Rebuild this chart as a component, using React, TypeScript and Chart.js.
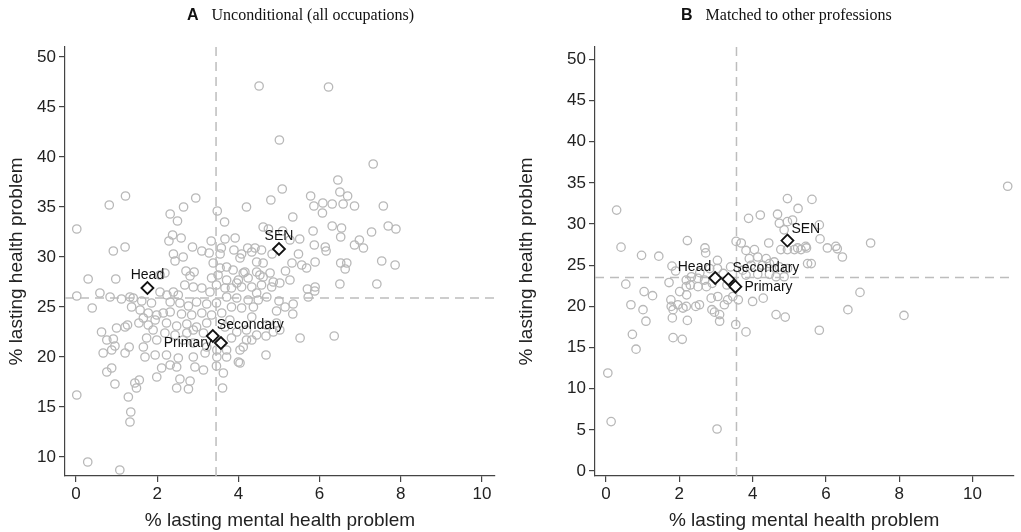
import React, { useEffect, useRef } from 'react';
import { Chart, registerables } from 'chart.js';

Chart.register(...registerables);

// ---------- text ----------
const panelLetters = ['A', 'B'];
const panelTitles = ['Unconditional (all occupations)', 'Matched to other professions'];
const xAxisTitle = '% lasting mental health problem';
const yAxisTitle = '% lasting health problem';

// ---------- ticks ----------
const xTicksA = [0, 2, 4, 6, 8, 10];
const yTicksA = [10, 15, 20, 25, 30, 35, 40, 45, 50];
const xTicksB = [0, 2, 4, 6, 8, 10];
const yTicksB = [0, 5, 10, 15, 20, 25, 30, 35, 40, 45, 50];

// ---------- reference (mean) lines ----------
const meanMental = [3.45, 3.56];
const meanHealth = [25.9, 23.5];

// ---------- teacher groups ----------
const teacherLabels = ['Head', 'SEN', 'Secondary', 'Primary'];
const teachersAMental = [1.76, 5.0, 3.37, 3.57];
const teachersAHealth = [26.9, 30.8, 22.1, 21.4];
const teachersBMental = [2.98, 4.95, 3.34, 3.53];
const teachersBHealth = [23.45, 28.0, 23.3, 22.4];
const labelPosA = ['top', 'top', 'topright', 'left'];
const labelPosB = ['topleft', 'topright', 'topright', 'right'];

// ---------- occupations: [% mental, % health] ----------
const occupationsA: [number, number][] = [
  [4.51, 47.1], [6.22, 47.0], [5.01, 41.7], [7.32, 39.3], [6.45, 37.7], [6.50, 36.5], [6.69, 36.1], [5.08, 36.8],
  [4.80, 35.7], [4.20, 35.0], [3.48, 34.6], [3.66, 33.5], [2.95, 35.9], [2.65, 35.0], [2.32, 34.3], [2.50, 33.6],
  [1.22, 36.1], [0.82, 35.2], [0.02, 32.8], [0.92, 30.6], [1.21, 31.0],
  [5.78, 36.1], [5.86, 35.1], [6.08, 35.4], [6.07, 34.4], [6.31, 35.3], [6.58, 35.3], [6.86, 35.1], [7.57, 35.1],
  [5.34, 34.0], [6.31, 33.1], [6.54, 32.9], [6.52, 32.0], [5.84, 32.6], [5.51, 31.8], [5.87, 31.2], [6.14, 31.0],
  [6.16, 30.6], [6.86, 31.2], [6.98, 31.7], [7.08, 30.9], [7.28, 32.5], [7.69, 33.1], [7.88, 32.8], [4.61, 33.0],
  [4.74, 32.8], [5.09, 32.6], [5.27, 31.7], [5.48, 30.3],
  [2.38, 32.2], [2.59, 31.9], [2.29, 31.6], [2.40, 30.3], [2.64, 30.0], [2.87, 31.0], [3.10, 30.6], [3.33, 31.6],
  [3.28, 30.4], [3.55, 30.3], [3.58, 30.9], [3.67, 31.8], [3.92, 31.9], [3.89, 30.7], [4.08, 30.3], [4.23, 30.9],
  [4.33, 30.5], [4.57, 30.7], [4.83, 30.3], [4.41, 30.9], [2.44, 29.6],
  [5.89, 29.5], [5.32, 29.4], [5.56, 29.2], [5.68, 28.9], [5.16, 28.6], [6.52, 29.4], [6.67, 29.4], [6.63, 28.8],
  [7.53, 29.6], [7.86, 29.2], [6.50, 27.3], [7.41, 27.3], [5.70, 26.8], [5.89, 27.0], [5.88, 26.6], [5.72, 26.0],
  [5.00, 25.6], [5.35, 25.3], [5.15, 25.0], [4.94, 24.6], [5.34, 24.3], [5.52, 21.9], [6.36, 22.1], [4.68, 22.1],
  [4.86, 22.5], [5.02, 22.7], [4.68, 20.2],
  [4.04, 29.9], [4.45, 29.5], [4.61, 29.4],
  [3.55, 28.9], [3.87, 28.7], [4.16, 28.5], [4.45, 28.5], [3.71, 27.7], [4.00, 27.7], [4.24, 27.9], [4.53, 28.2],
  [4.78, 28.4], [3.83, 26.9], [4.08, 27.0], [4.33, 27.0], [4.57, 27.2], [4.82, 27.0], [4.86, 27.5], [3.71, 26.0],
  [3.96, 25.9], [4.24, 25.7], [4.49, 25.7], [4.70, 26.0], [3.83, 25.0], [4.08, 24.9], [4.37, 25.0],
  [3.38, 29.4], [3.71, 29.0], [3.34, 27.9], [3.50, 28.2],
  [2.71, 28.6], [2.91, 28.5], [2.81, 28.1], [2.19, 28.4], [2.07, 28.2],
  [0.59, 26.4], [0.84, 26.0], [1.12, 25.8], [1.41, 25.9], [1.62, 25.6], [1.86, 25.4], [2.07, 26.5], [2.24, 26.2],
  [2.40, 26.5], [2.52, 26.2], [2.68, 27.2], [2.89, 27.0], [3.10, 26.9], [3.30, 26.5], [3.46, 27.2], [3.67, 26.9],
  [1.37, 25.0], [1.58, 24.7], [1.78, 24.4], [1.99, 24.2], [2.15, 24.4], [2.32, 25.5], [2.56, 25.4], [2.77, 25.1],
  [2.97, 25.5], [3.22, 25.3], [3.46, 25.4],
  [2.32, 24.5], [2.60, 24.3], [2.85, 24.2], [3.10, 24.4], [3.34, 24.2], [3.59, 24.4],
  [1.66, 23.9], [1.95, 23.7], [2.23, 23.4], [2.48, 23.1], [2.73, 23.3], [2.97, 23.0], [1.55, 23.4], [1.78, 23.2],
  [3.22, 23.4], [2.89, 22.7], [3.14, 22.4], [2.64, 21.7], [2.89, 21.4], [3.22, 21.0], [3.47, 20.7],
  [1.90, 22.7], [2.19, 22.4], [2.44, 22.2], [2.73, 22.4], [1.74, 21.9], [1.99, 21.7], [1.66, 21.0], [1.70, 20.0],
  [1.95, 20.2], [2.23, 20.2], [2.52, 19.9], [2.89, 20.0], [3.18, 20.4], [3.47, 20.0], [3.71, 20.0], [4.00, 19.5],
  [2.11, 18.9], [2.32, 19.2], [2.48, 19.0], [2.93, 19.0], [3.14, 18.7], [3.46, 19.1], [3.63, 18.4],
  [1.99, 18.0], [2.56, 17.8], [2.81, 17.6], [2.48, 16.9], [2.77, 16.8], [3.61, 16.9],
  [4.20, 21.7], [4.12, 21.0], [4.04, 19.4],
  [3.67, 23.0], [3.79, 23.7], [3.96, 22.5], [4.20, 22.7], [4.33, 21.7], [3.83, 21.9], [3.71, 20.7], [4.04, 20.7],
  [4.45, 22.2], [4.70, 23.2], [4.94, 23.4], [4.45, 26.4], [4.33, 24.0],
  [4.12, 28.4], [4.61, 28.0], [3.96, 27.4], [5.02, 27.4], [5.27, 27.7],
  [0.30, 27.8], [0.98, 27.8], [0.02, 26.1], [0.40, 24.9], [1.33, 26.0],
  [0.63, 22.5], [0.76, 21.7], [0.92, 21.8], [0.96, 21.1], [0.67, 20.4], [0.88, 20.7], [1.00, 22.9], [1.21, 23.0],
  [1.27, 23.2], [1.31, 21.0], [1.21, 20.4], [0.88, 18.9], [0.76, 18.5], [0.96, 17.3], [1.45, 17.4], [1.56, 17.7],
  [1.49, 16.9], [0.02, 16.2], [1.29, 16.0], [1.35, 14.5], [1.33, 13.5], [0.29, 9.5], [1.08, 8.7],
];

const occupationsB: [number, number][] = [
  [0.29, 31.7], [0.41, 27.2], [0.97, 26.2], [1.44, 26.1], [0.54, 22.7], [1.04, 21.8], [1.27, 21.3], [0.68, 20.2],
  [1.01, 19.6], [1.09, 18.2], [0.72, 16.6], [0.82, 14.8], [0.05, 11.9], [0.14, 6.0], [3.03, 5.1],
  [1.72, 22.9], [1.80, 24.9], [1.90, 24.3], [2.22, 28.0], [2.70, 27.1], [2.72, 26.5], [3.04, 25.6], [3.04, 24.6],
  [1.77, 20.8], [1.83, 19.6], [1.96, 20.2], [1.81, 18.6], [2.22, 18.3], [2.19, 20.0], [2.45, 20.0], [2.55, 20.2],
  [1.83, 16.2], [2.08, 16.0], [3.54, 17.8], [3.82, 16.9],
  [2.19, 23.2], [2.33, 23.6], [2.51, 23.4], [2.69, 23.2], [2.51, 22.4], [2.74, 22.4], [2.19, 22.4], [2.01, 21.8],
  [2.20, 21.4], [2.30, 22.6], [1.78, 20.0], [2.10, 19.8], [2.87, 21.0], [3.05, 21.2], [3.32, 20.8], [3.46, 21.2],
  [3.61, 20.8], [4.00, 20.6], [4.29, 21.0], [2.89, 19.6], [2.96, 19.3], [3.23, 20.2], [3.10, 19.0], [3.10, 18.2],
  [4.64, 19.0], [4.89, 18.7], [6.60, 19.6], [6.93, 21.7], [8.13, 18.9], [5.82, 17.1],
  [3.89, 30.7], [4.21, 31.1], [4.68, 31.2], [4.73, 30.1], [4.95, 33.1], [5.62, 33.0], [5.24, 31.9], [5.09, 30.5],
  [5.82, 29.9], [4.86, 29.3], [5.84, 28.2], [6.04, 27.1], [6.27, 27.3], [6.31, 27.0], [6.45, 26.0], [7.22, 27.7],
  [4.95, 26.9], [5.23, 27.1], [5.32, 26.9], [5.47, 27.1], [5.60, 25.2], [10.96, 34.6], [4.95, 30.3],
  [3.55, 27.9], [3.69, 27.7], [4.44, 27.7],
  [3.82, 26.8], [4.05, 26.9], [4.14, 26.0], [4.37, 25.8], [3.91, 25.8], [4.46, 25.2], [4.59, 25.4], [4.73, 24.8],
  [4.95, 24.6], [4.27, 25.0], [3.96, 25.0], [4.77, 26.9], [5.14, 26.9], [5.45, 27.3], [5.50, 25.2],
  [3.73, 24.4], [3.82, 23.8], [4.14, 23.9], [4.46, 23.9], [4.64, 23.6], [4.86, 23.6],
  [2.56, 24.1], [2.83, 24.6], [3.20, 24.0], [3.40, 24.8], [3.30, 22.6], [2.90, 22.8],
];

// ---------- layout per panel ----------
const panels = [
  {
    left: 0, width: 510, chartLeft: 65, padRight: 15, padTop: 47, axisH: 56,
    xMin: -0.27, xMax: 10.32, yMin: 8.1, yMax: 51.0, titleX: 187,
    xTicks: xTicksA, yTicks: yTicksA, points: occupationsA,
    tMental: teachersAMental, tHealth: teachersAHealth, labelPos: labelPosA,
  },
  {
    left: 510, width: 511, chartLeft: 85, padRight: 6, padTop: 47, axisH: 56,
    xMin: -0.30, xMax: 11.11, yMin: -0.61, yMax: 51.52, titleX: 171,
    xTicks: xTicksB, yTicks: yTicksB, points: occupationsB,
    tMental: teachersBMental, tHealth: teachersBHealth, labelPos: labelPosB,
  },
];

const SANS = '"Liberation Sans", Arial, Helvetica, sans-serif';
const SERIF = '"Liberation Serif", "Times New Roman", serif';

function Panel({ idx }: { idx: number }) {
  const ref = useRef<HTMLCanvasElement | null>(null);
  const cfg = panels[idx];

  useEffect(() => {
    if (!ref.current) return;

    const titlePlugin = {
      id: 'panelTitle',
      afterDraw(chart: any) {
        const ctx = chart.ctx;
        ctx.save();
        ctx.fillStyle = '#111';
        ctx.textBaseline = 'middle';
        ctx.textAlign = 'left';
        ctx.font = `bold 16px ${SANS}`;
        ctx.fillText(panelLetters[idx], cfg.titleX, 16);
        const w = ctx.measureText(panelLetters[idx]).width;
        ctx.font = `16px ${SERIF}`;
        ctx.fillText(panelTitles[idx], cfg.titleX + w + 13, 16);
        ctx.restore();
      },
    };

    const refLinePlugin = {
      id: 'meanLines',
      beforeDatasetsDraw(chart: any) {
        const { ctx, chartArea, scales } = chart;
        const px = scales.x.getPixelForValue(meanMental[idx]);
        const py = scales.y.getPixelForValue(meanHealth[idx]);
        ctx.save();
        ctx.strokeStyle = '#bdbdbd';
        ctx.lineWidth = 1.5;
        ctx.setLineDash([9, 6]);
        ctx.beginPath();
        ctx.moveTo(px, chartArea.top);
        ctx.lineTo(px, chartArea.bottom);
        ctx.moveTo(chartArea.left, py);
        ctx.lineTo(chartArea.right, py);
        ctx.stroke();
        ctx.restore();
      },
    };

    const labelPlugin = {
      id: 'teacherLabels',
      afterDatasetsDraw(chart: any) {
        const ctx = chart.ctx;
        const meta = chart.getDatasetMeta(1);
        ctx.save();
        ctx.fillStyle = '#111';
        ctx.font = `14px ${SANS}`;
        ctx.textBaseline = 'middle';
        meta.data.forEach((pt: any, i: number) => {
          const pos = cfg.labelPos[i];
          let x = pt.x;
          let y = pt.y;
          if (pos === 'top') { ctx.textAlign = 'center'; y -= 13; }
          else if (pos === 'topright') { ctx.textAlign = 'left'; x += 4; y -= 11; }
          else if (pos === 'topleft') { ctx.textAlign = 'right'; x -= 4; y -= 11; }
          else if (pos === 'left') { ctx.textAlign = 'right'; x -= 9; }
          else { ctx.textAlign = 'left'; x += 9; }
          ctx.fillText(teacherLabels[i], x, y);
        });
        ctx.restore();
      },
    };

    const axisColor = '#444';
    const chart = new Chart(ref.current, {
      type: 'scatter',
      data: {
        datasets: [
          {
            data: cfg.points.map(([x, y]) => ({ x, y })),
            pointStyle: 'circle',
            pointRadius: 4.2,
            pointBorderWidth: 1.3,
            borderColor: '#b8b8b8',
            backgroundColor: 'rgba(0,0,0,0)',
            order: 2,
          },
          {
            data: cfg.tMental.map((x, i) => ({ x, y: cfg.tHealth[i] })),
            pointStyle: 'rectRot',
            pointRadius: 6,
            pointBorderWidth: 1.8,
            borderColor: '#111',
            backgroundColor: '#fff',
            order: 1,
          },
        ],
      },
      options: {
        responsive: false,
        animation: false,
        events: [],
        layout: { padding: { top: cfg.padTop, right: cfg.padRight, left: 0, bottom: 0 } },
        plugins: { legend: { display: false }, tooltip: { enabled: false }, title: { display: false } },
        scales: {
          x: {
            type: 'linear',
            min: cfg.xMin,
            max: cfg.xMax,
            afterBuildTicks: (s: any) => { s.ticks = cfg.xTicks.map((v) => ({ value: v })); },
            afterFit: (s: any) => { s.height = cfg.axisH; },
            ticks: { font: { size: 17, family: SANS }, color: '#222', padding: 2, maxRotation: 0, autoSkip: false },
            grid: { display: true, drawOnChartArea: false, drawTicks: true, tickLength: 6, color: axisColor, lineWidth: 1.2 },
            border: { display: true, color: axisColor, width: 1.2 },
            title: { display: true, text: xAxisTitle, font: { size: 19, family: SANS }, color: '#222', padding: { top: 0, bottom: 0 } },
          },
          y: {
            type: 'linear',
            min: cfg.yMin,
            max: cfg.yMax,
            afterBuildTicks: (s: any) => { s.ticks = cfg.yTicks.map((v) => ({ value: v })); },
            afterFit: (s: any) => { s.width = cfg.chartLeft; },
            ticks: { font: { size: 17, family: SANS }, color: '#222', padding: 3, autoSkip: false },
            grid: { display: true, drawOnChartArea: false, drawTicks: true, tickLength: 6, color: axisColor, lineWidth: 1.2 },
            border: { display: true, color: axisColor, width: 1.2 },
            title: { display: true, text: yAxisTitle, font: { size: 19, family: SANS }, color: '#222', padding: { top: 5, bottom: 0 } },
          },
        },
      },
      plugins: [refLinePlugin, labelPlugin, titlePlugin],
    });
    return () => chart.destroy();
  }, [idx]);

  return (
    <canvas
      ref={ref}
      width={cfg.width}
      height={532}
      style={{ position: 'absolute', left: cfg.left, top: 0, width: cfg.width, height: 532 }}
    />
  );
}

export default function App() {
  return (
    <div style={{ position: 'fixed', left: 0, top: 0, width: 1021, height: 532, background: '#fff', overflow: 'hidden' }}>
      <Panel idx={0} />
      <Panel idx={1} />
    </div>
  );
}
